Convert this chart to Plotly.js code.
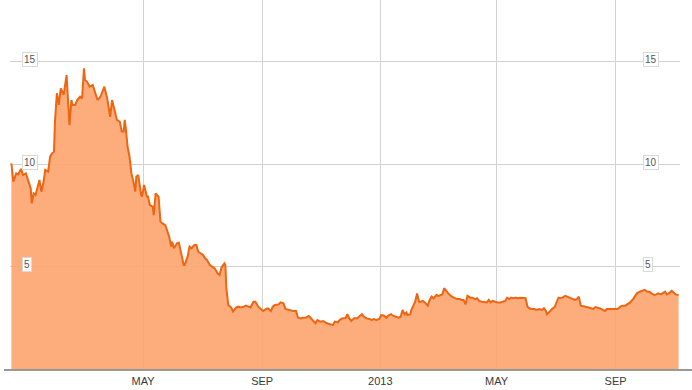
<!DOCTYPE html>
<html>
<head>
<meta charset="utf-8">
<script src="https://cdn.plot.ly/plotly-3.0.1.min.js"></script>
<style>
html,body{margin:0;padding:0;background:#fff;}
#chart{width:692px;height:390px;}
</style>
</head>
<body>
<div id="chart"></div>
<script>
// Dates of the sampled closing values
const dates = [
'2011-12-17','2011-12-19','2011-12-22','2011-12-24','2011-12-27','2011-12-29',
'2012-01-01','2012-01-04','2012-01-06','2012-01-07','2012-01-09','2012-01-11','2012-01-13','2012-01-15','2012-01-17','2012-01-19','2012-01-21','2012-01-24','2012-01-26','2012-01-28','2012-01-30','2012-01-31',
'2012-02-02','2012-02-04','2012-02-06','2012-02-08','2012-02-09','2012-02-12','2012-02-15','2012-02-17','2012-02-18','2012-02-21','2012-02-23','2012-02-26','2012-02-28',
'2012-03-01','2012-03-02','2012-03-04','2012-03-07','2012-03-10','2012-03-12','2012-03-15','2012-03-18','2012-03-22','2012-03-25','2012-03-28','2012-03-30',
'2012-04-02','2012-04-04','2012-04-07','2012-04-09','2012-04-11','2012-04-12','2012-04-13','2012-04-15','2012-04-17','2012-04-19','2012-04-21','2012-04-23','2012-04-24','2012-04-26','2012-04-29','2012-04-30',
'2012-05-02','2012-05-05','2012-05-06','2012-05-08','2012-05-11','2012-05-12','2012-05-14','2012-05-17','2012-05-19','2012-05-21','2012-05-24','2012-05-26','2012-05-28','2012-05-30','2012-05-31',
'2012-06-02','2012-06-05','2012-06-07','2012-06-09','2012-06-12','2012-06-13','2012-06-16','2012-06-18','2012-06-20','2012-06-23','2012-06-25','2012-06-27','2012-06-30',
'2012-07-02','2012-07-04','2012-07-06','2012-07-09','2012-07-12','2012-07-14','2012-07-17','2012-07-19','2012-07-21','2012-07-24','2012-07-25','2012-07-26','2012-07-28','2012-07-31',
'2012-08-02','2012-08-05','2012-08-07','2012-08-10','2012-08-13','2012-08-15','2012-08-18','2012-08-20','2012-08-23','2012-08-25','2012-08-28','2012-08-30',
'2012-09-02','2012-09-05','2012-09-07','2012-09-10','2012-09-12','2012-09-14','2012-09-16','2012-09-18','2012-09-20','2012-09-23','2012-09-25','2012-09-28','2012-09-30',
'2012-10-03','2012-10-06','2012-10-08','2012-10-11','2012-10-13','2012-10-16','2012-10-19','2012-10-21','2012-10-23','2012-10-26','2012-10-28','2012-10-31',
'2012-11-03','2012-11-05','2012-11-07','2012-11-10','2012-11-13','2012-11-15','2012-11-18','2012-11-20','2012-11-23','2012-11-26','2012-11-28','2012-11-30',
'2012-12-02','2012-12-05','2012-12-08','2012-12-10','2012-12-13','2012-12-15','2012-12-18','2012-12-21','2012-12-23','2012-12-25','2012-12-28','2012-12-31',
'2013-01-02','2013-01-05','2013-01-07','2013-01-09','2013-01-12','2013-01-14','2013-01-17','2013-01-20','2013-01-22','2013-01-24','2013-01-26','2013-01-28','2013-01-29',
'2013-02-01','2013-02-02','2013-02-04','2013-02-06','2013-02-08','2013-02-10','2013-02-12','2013-02-14','2013-02-16','2013-02-19','2013-02-21','2013-02-23','2013-02-25','2013-02-28',
'2013-03-02','2013-03-04','2013-03-06','2013-03-08','2013-03-11','2013-03-13','2013-03-16','2013-03-18','2013-03-21','2013-03-24','2013-03-26','2013-03-28','2013-03-30',
'2013-04-01','2013-04-04','2013-04-06','2013-04-09','2013-04-11','2013-04-13','2013-04-16','2013-04-18','2013-04-21','2013-04-23','2013-04-25','2013-04-27','2013-04-29',
'2013-05-02','2013-05-05','2013-05-07','2013-05-10','2013-05-12','2013-05-14','2013-05-16','2013-05-18','2013-05-21','2013-05-23','2013-05-26','2013-05-29','2013-05-31',
'2013-06-02','2013-06-04','2013-06-06','2013-06-09','2013-06-11','2013-06-14','2013-06-17','2013-06-19','2013-06-21','2013-06-22','2013-06-25','2013-06-27','2013-06-30',
'2013-07-02','2013-07-04','2013-07-06','2013-07-08','2013-07-11','2013-07-13','2013-07-16','2013-07-19','2013-07-21','2013-07-23','2013-07-25','2013-07-27','2013-07-30',
'2013-08-01','2013-08-04','2013-08-06','2013-08-09','2013-08-11','2013-08-13','2013-08-16','2013-08-19','2013-08-21','2013-08-23','2013-08-26','2013-08-29','2013-08-31',
'2013-09-03','2013-09-06','2013-09-08','2013-09-11','2013-09-13','2013-09-16','2013-09-19','2013-09-21','2013-09-23','2013-09-26','2013-09-29',
'2013-10-01','2013-10-04','2013-10-06','2013-10-08','2013-10-11','2013-10-13','2013-10-15','2013-10-18','2013-10-20','2013-10-22','2013-10-24','2013-10-26','2013-10-29','2013-10-31',
'2013-11-02','2013-11-05'
];

const values = [
10.03, 9.14, 9.54, 9.49, 9.76, 9.46,
9.54, 9.06, 8.81, 8.08, 8.57, 8.49, 8.89, 9.22, 8.65, 9.06, 9.71, 9.63, 10.36, 10.52, 10.6, 12.06,
13.45, 12.88, 13.69, 13.45, 13.37, 14.34, 11.9, 13.12, 12.88, 12.88, 13.12, 13.28, 13.2,
14.67, 14.1, 14.02, 13.77, 13.85, 13.53, 13.12, 13.28, 13.77, 13.2, 12.3, 13.12,
12.6, 12.15, 12.06, 11.58, 11.58, 12.15, 11.82, 10.85, 10.36, 9.54, 9.14, 8.65, 9.38, 9.46, 8.49, 8.41,
8.98, 8.41, 8.41, 8.0, 7.92, 7.51, 8.57, 8.41, 7.19, 7.1, 7.02, 6.7, 6.45, 5.97, 6.21,
5.89, 6.13, 6.16, 5.72, 5.07, 5.07, 5.48, 5.97, 5.89, 6.05, 6.05, 5.72, 5.64,
5.56, 5.4, 5.32, 5.07, 4.99, 4.91, 4.67, 4.59, 4.95, 5.15, 5.07, 3.94, 3.12, 3.0,
2.8, 3.0, 3.04, 3.0, 3.04, 3.09, 3.04, 3.0, 3.28, 3.28, 3.04, 2.96,
2.83, 2.93, 2.96, 2.83, 3.04, 3.12, 3.15, 3.15, 3.25, 3.2, 2.93, 2.88, 2.88,
2.83, 2.83, 2.5, 2.47, 2.5, 2.5, 2.59, 2.5, 2.39, 2.23, 2.39, 2.31,
2.34, 2.27, 2.23, 2.18, 2.15, 2.31, 2.27, 2.39, 2.47, 2.47, 2.67, 2.47,
2.34, 2.47, 2.47, 2.55, 2.67, 2.55, 2.47, 2.44, 2.39, 2.44, 2.39, 2.44,
2.63, 2.6, 2.5, 2.6, 2.67, 2.6, 2.55, 2.5, 2.55, 2.88, 2.67, 2.76, 2.63,
2.67, 2.88, 3.12, 3.28, 3.69, 3.28, 3.28, 3.32, 3.25, 3.09, 3.37, 3.53, 3.45, 3.61,
3.57, 3.6, 3.64, 3.94, 3.77, 3.64, 3.53, 3.48, 3.41, 3.41, 3.37, 3.37, 3.15,
3.57, 3.48, 3.48, 3.41, 3.45, 3.32, 3.28, 3.28, 3.25, 3.37, 3.25, 3.32, 3.28,
3.25, 3.25, 3.28, 3.32, 3.48, 3.41, 3.48, 3.45, 3.48, 3.45, 3.48, 3.48, 3.45,
3.04, 2.96, 2.93, 2.93, 2.88, 2.93, 2.88, 2.96, 2.83, 2.67, 2.8, 2.92, 3.02,
3.3, 3.48, 3.45, 3.48, 3.57, 3.53, 3.48, 3.41, 3.37, 3.41, 3.53, 3.09, 3.04,
3.04, 3.0, 2.96, 2.93, 3.02, 3.0, 2.96, 2.88, 2.83, 2.93, 2.93, 2.93, 2.96,
2.93, 3.04, 3.09, 3.09, 3.15, 3.25, 3.41, 3.53, 3.69, 3.77, 3.81,
3.86, 3.77, 3.77, 3.69, 3.61, 3.64, 3.69, 3.64, 3.69, 3.77, 3.64, 3.69, 3.81, 3.74,
3.64, 3.61
];

const tickDates = ['2012-05-01','2012-09-01','2013-01-01','2013-05-01','2013-09-01'];
const tickLabels = ['MAY','SEP','2013','MAY','SEP'];
const yTicks = [5, 10, 15];
const yTickLabels = ['5', '10', '15'];

const FONT = 'Arial, "Liberation Sans", sans-serif';

const trace = {
  x: dates,
  y: values,
  type: 'scatter',
  mode: 'lines',
  line: {color: '#ee6512', width: 2, shape: 'linear'},
  fill: 'tozeroy',
  fillcolor: 'rgba(253,163,109,0.9)',
  hoverinfo: 'skip'
};

const annotations = [];
yTicks.forEach((v, i) => {
  [0.0179, 0.9448].forEach(px => {
    annotations.push({
      xref: 'paper', yref: 'y', x: px, y: v, xanchor: 'left', yanchor: 'middle',
      yshift: 2, text: yTickLabels[i], showarrow: false,
      font: {family: FONT, size: 10, color: '#555'},
      bgcolor: '#ffffff', bordercolor: '#d9d9d9', borderwidth: 1, borderpad: 1
    });
  });
});

const layout = {
  width: 692, height: 390,
  margin: {l: 10, r: 12, t: 0, b: 21, pad: 0},
  paper_bgcolor: '#ffffff', plot_bgcolor: '#ffffff',
  showlegend: false,
  font: {family: FONT},
  xaxis: {
    type: 'date',
    range: ['2011-12-15 14:00', '2013-11-06 12:00'],
    tickvals: tickDates, ticktext: tickLabels,
    showgrid: true, gridcolor: '#d2d2d2', gridwidth: 1,
    zeroline: false, showline: false,
    ticks: 'outside', ticklen: 2, tickcolor: 'rgba(0,0,0,0)',
    tickfont: {family: FONT, size: 11, color: '#3a3a3a'},
    fixedrange: true
  },
  yaxis: {
    range: [0, 18],
    tickvals: yTicks, showticklabels: false,
    showgrid: true, gridcolor: '#d2d2d2', gridwidth: 1,
    zeroline: false, showline: false, ticks: '',
    fixedrange: true
  },
  shapes: [{
    type: 'line', xref: 'paper', yref: 'paper',
    x0: -0.009, x1: 1.018, y0: -0.0027, y1: -0.0027,
    line: {color: '#333', width: 1}, layer: 'above'
  }],
  annotations: annotations
};

Plotly.newPlot('chart', [trace], layout, {displayModeBar: false, staticPlot: true});
</script>
</body>
</html>
